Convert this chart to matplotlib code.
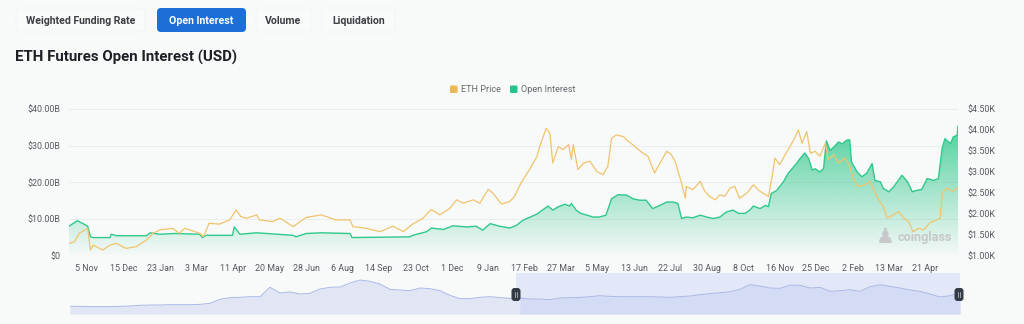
import matplotlib
matplotlib.use("Agg")
import matplotlib.pyplot as plt
import matplotlib.dates as mdates
import numpy as np
import pandas as pd
from matplotlib.patches import FancyBboxPatch
from matplotlib.colors import to_rgb

# ---------------- data ----------------
eth_dates = [
    "2022-10-17", "2022-10-23", "2022-10-28", "2022-11-03", "2022-11-06", "2022-11-09", "2022-11-12",
    "2022-11-22", "2022-11-30", "2022-12-07", "2022-12-17", "2022-12-28", "2023-01-08", "2023-01-15",
    "2023-01-22", "2023-02-05", "2023-02-12", "2023-02-18", "2023-03-06", "2023-03-10", "2023-03-16",
    "2023-03-27", "2023-04-07", "2023-04-14", "2023-04-19", "2023-04-25", "2023-05-06", "2023-05-09",
    "2023-05-23", "2023-05-31", "2023-06-14", "2023-06-28", "2023-07-14", "2023-07-30", "2023-08-14",
    "2023-08-17", "2023-08-31", "2023-09-15", "2023-09-29", "2023-10-10", "2023-10-20", "2023-10-31",
    "2023-11-09", "2023-11-18", "2023-11-29", "2023-12-06", "2023-12-13", "2023-12-24", "2023-12-31",
    "2024-01-09", "2024-01-14", "2024-01-23", "2024-02-01", "2024-02-06", "2024-02-13", "2024-02-22",
    "2024-03-01", "2024-03-04", "2024-03-11", "2024-03-15", "2024-03-18", "2024-03-24", "2024-03-29",
    "2024-04-04", "2024-04-07", "2024-04-09", "2024-04-14", "2024-04-20", "2024-04-27", "2024-05-04",
    "2024-05-11", "2024-05-16", "2024-05-20", "2024-05-25", "2024-06-02", "2024-06-05", "2024-06-10",
    "2024-06-16", "2024-06-23", "2024-06-28", "2024-07-05", "2024-07-11", "2024-07-18", "2024-07-23",
    "2024-07-27", "2024-08-03", "2024-08-07", "2024-08-08", "2024-08-15", "2024-08-23", "2024-08-28",
    "2024-09-02", "2024-09-08", "2024-09-13", "2024-09-18", "2024-09-24", "2024-09-29", "2024-10-04",
    "2024-10-12", "2024-10-19", "2024-10-24", "2024-10-29", "2024-11-04", "2024-11-08", "2024-11-11",
    "2024-11-16", "2024-11-22", "2024-11-27", "2024-12-02", "2024-12-06", "2024-12-10", "2024-12-15",
    "2024-12-19", "2024-12-24", "2024-12-29", "2025-01-04", "2025-01-07", "2025-01-13", "2025-01-18",
    "2025-01-25", "2025-01-30", "2025-02-03", "2025-02-08", "2025-02-15", "2025-02-21", "2025-02-24",
    "2025-03-02", "2025-03-07", "2025-03-11", "2025-03-18", "2025-03-23", "2025-03-29", "2025-04-03",
    "2025-04-08", "2025-04-14", "2025-04-19", "2025-04-26", "2025-05-03", "2025-05-07", "2025-05-09",
    "2025-05-14", "2025-05-20", "2025-05-26",
]
eth_price = [
    1290, 1330, 1530, 1610, 1650, 1130, 1250,
    1130, 1250, 1290, 1170, 1210, 1370, 1530,
    1610, 1650, 1530, 1650, 1530, 1450, 1770,
    1750, 1850, 2090, 1930, 1890, 1970, 1850,
    1810, 1890, 1690, 1910, 1970, 1850, 1850,
    1690, 1650, 1570, 1700, 1570, 1750, 1890,
    2100, 1970, 2130, 2330, 2250, 2330, 2250,
    2580, 2490, 2230, 2290, 2410, 2730, 3050,
    3360, 3600, 4040, 3920, 3210, 3600, 3530,
    3650, 3290, 3650, 3050, 3210, 3250, 3010,
    2930, 3130, 3800, 3880, 3840, 3760, 3680,
    3560, 3440, 3370, 2970, 3210, 3490, 3410,
    3250, 2730, 2370, 2650, 2570, 2770, 2530,
    2410, 2330, 2450, 2410, 2610, 2650, 2370,
    2490, 2690, 2570, 2490, 2410, 2890, 3330,
    3170, 3410, 3600, 3800, 4000, 3680, 3960,
    3440, 3490, 3370, 3680, 3290, 3410, 3210,
    3330, 3130, 2810, 2650, 2690, 2770, 2610,
    2330, 2170, 1890, 1970, 2050, 1890, 1810,
    1570, 1650, 1610, 1780, 1850, 1890, 2490,
    2610, 2530, 2630,
]

oi_dates = [
    "2022-10-17", "2022-10-26", "2022-11-01", "2022-11-06", "2022-11-09", "2022-11-12", "2022-11-30",
    "2022-12-01", "2022-12-07", "2023-01-08", "2023-01-12", "2023-01-22", "2023-02-07", "2023-03-06",
    "2023-03-09", "2023-03-13", "2023-04-10", "2023-04-12", "2023-04-18", "2023-05-06", "2023-06-14",
    "2023-06-17", "2023-06-28", "2023-07-14", "2023-08-14", "2023-08-16", "2023-10-17", "2023-10-20",
    "2023-11-04", "2023-11-09", "2023-11-22", "2023-12-02", "2023-12-17", "2023-12-27", "2024-01-03",
    "2024-01-11", "2024-01-21", "2024-02-01", "2024-02-08", "2024-02-15", "2024-02-22", "2024-03-01",
    "2024-03-07", "2024-03-13", "2024-03-18", "2024-03-24", "2024-03-31", "2024-04-05", "2024-04-07",
    "2024-04-12", "2024-04-17", "2024-04-24", "2024-04-30", "2024-05-07", "2024-05-14", "2024-05-20",
    "2024-05-27", "2024-06-05", "2024-06-12", "2024-06-19", "2024-06-26", "2024-07-03", "2024-07-11",
    "2024-07-18", "2024-07-25", "2024-07-30", "2024-08-03", "2024-08-08", "2024-08-15", "2024-08-23",
    "2024-08-30", "2024-09-06", "2024-09-13", "2024-09-20", "2024-09-27", "2024-10-03", "2024-10-10",
    "2024-10-15", "2024-10-19", "2024-10-26", "2024-11-01", "2024-11-04", "2024-11-07", "2024-11-13",
    "2024-11-20", "2024-11-25", "2024-12-01", "2024-12-04", "2024-12-08", "2024-12-13", "2024-12-17",
    "2024-12-21", "2024-12-24", "2024-12-29", "2025-01-02", "2025-01-05", "2025-01-09", "2025-01-13",
    "2025-01-18", "2025-01-22", "2025-01-27", "2025-01-30", "2025-02-01", "2025-02-07", "2025-02-12",
    "2025-02-17", "2025-02-23", "2025-02-26", "2025-03-04", "2025-03-07", "2025-03-13", "2025-03-18",
    "2025-03-23", "2025-03-27", "2025-04-02", "2025-04-07", "2025-04-12", "2025-04-17", "2025-04-23",
    "2025-04-30", "2025-05-05", "2025-05-09", "2025-05-12", "2025-05-18", "2025-05-21", "2025-05-25",
    "2025-05-26",
]
oi_billions = [
    8.0, 9.5, 8.7, 8.0, 5.1, 4.9, 4.9,
    5.8, 5.4, 5.4, 6.2, 5.8, 6.0, 5.8,
    4.9, 5.5, 5.5, 7.8, 5.8, 6.2, 5.5,
    5.1, 6.0, 6.2, 6.0, 4.9, 5.1, 5.5,
    6.5, 7.5, 7.1, 8.1, 7.8, 8.0, 6.9,
    8.7, 8.0, 7.5, 8.2, 9.6, 10.4, 11.3,
    12.4, 13.5, 12.4, 13.3, 14.0, 13.5, 14.2,
    12.4, 11.5, 11.0, 10.5, 10.5, 11.0, 15.5,
    16.6, 16.5, 15.5, 15.1, 15.1, 12.8, 13.7,
    14.6, 14.6, 14.2, 10.1, 10.5, 10.3, 11.0,
    10.5, 10.1, 10.5, 11.9, 12.4, 11.5, 11.5,
    12.4, 13.5, 12.8, 13.7, 13.3, 16.9, 17.8,
    20.1, 22.4, 24.2, 25.1, 26.5, 28.0, 26.5,
    23.3, 23.7, 22.8, 23.7, 31.3, 28.7, 29.6,
    31.0, 30.5, 31.5, 31.6, 25.5, 22.8, 21.5,
    22.4, 25.1, 20.5, 20.1, 18.3, 17.4, 18.7,
    20.5, 21.9, 20.1, 17.4, 17.8, 18.0, 21.0,
    20.5, 21.0, 29.2, 31.9, 30.5, 32.4, 32.8,
    35.3,
]

# full-history overview strip (relative level), evenly spaced over the period
nav_start, nav_end = "2020-03-06", "2025-05-24"
nav_level = [
    23, 23, 22, 22, 22, 23, 24, 26, 27, 27, 28, 28, 28, 29, 32, 44, 49, 50, 52, 52,
    80, 63, 66, 60, 62, 75, 80, 81, 93, 102, 98, 90, 74, 72, 70, 78, 76, 70, 56, 46,
    46, 50, 52, 49, 47, 48, 45, 45, 43, 48, 49, 50, 52, 55, 53, 52, 52, 52, 52, 51,
    50, 52, 54, 58, 61, 64, 67, 74, 88, 84, 78, 77, 87, 86, 78, 80, 68, 70, 73, 68,
    82, 88, 83, 78, 72, 68, 60, 51, 55, 63,
]

view_start, view_end = "2022-10-17", "2025-05-26"
tick_dates = [
    "2022-11-05", "2022-12-15", "2023-01-23", "2023-03-03", "2023-04-11", "2023-05-20",
    "2023-06-28", "2023-08-06", "2023-09-14", "2023-10-23", "2023-12-01", "2024-01-09",
    "2024-02-17", "2024-03-27", "2024-05-05", "2024-06-13", "2024-07-22", "2024-08-30",
    "2024-10-08", "2024-11-16", "2024-12-25", "2025-02-02", "2025-03-13", "2025-04-21",
]
oi_ticks = [0, 10, 20, 30, 40]
price_ticks = [1000, 1500, 2000, 2500, 3000, 3500, 4000, 4500]
tabs = ["Weighted Funding Rate", "Open Interest", "Volume", "Liquidation"]
active_tab = "Open Interest"
title = "ETH Futures Open Interest (USD)"

# ---------------- style ----------------
W, H = 1024, 324
BG = "#f8f9f9"
GREEN = "#2fc98c"
GOLD = "#f0c46c"
TXT = "#555a60"
plt.rcParams["font.family"] = ["Roboto", "DejaVu Sans"]

fig = plt.figure(figsize=(W / 100, H / 100), dpi=100, facecolor=BG)


def frac_box(x0, y0, x1, y1):
    """pixel box (top-left origin) -> figure fraction [l, b, w, h]"""
    return [x0 / W, 1 - y1 / H, (x1 - x0) / W, (y1 - y0) / H]


# background canvas in pixel units for tabs / title / legend
back = fig.add_axes([0, 0, 1, 1], zorder=0)
back.set_xlim(0, W)
back.set_ylim(H, 0)
back.axis("off")

tab_boxes = [(16, 145), (157, 246), (256, 311), (322, 395)]
for name, (x0, x1) in zip(tabs, tab_boxes):
    active = name == active_tab
    if active:
        back.add_patch(FancyBboxPatch((x0, 8), x1 - x0, 24,
                                      boxstyle="round,pad=0,rounding_size=4",
                                      facecolor="#1b6fd6", edgecolor="none"))
    else:
        back.add_patch(FancyBboxPatch((x0, 8), x1 - x0, 24,
                                      boxstyle="round,pad=0,rounding_size=4",
                                      facecolor="#f9fafa", edgecolor="#f2f3f4", lw=0.5))
    back.text((x0 + x1) / 2, 20.5, name, ha="center", va="center", fontsize=7.6,
              fontweight="bold", color="white" if active else "#3a3f45")

back.text(15, 57, title, ha="left", va="center", fontsize=10.8, fontweight="bold", color="#1d2125")

# legend
back.add_patch(FancyBboxPatch((450, 85.5), 7.5, 7.5, boxstyle="round,pad=0,rounding_size=1.2",
                              facecolor="#eab956", edgecolor="none"))
back.text(461, 89.5, "ETH Price", ha="left", va="center", fontsize=6.6, color="#666b70")
back.add_patch(FancyBboxPatch((510, 85.5), 7.5, 7.5, boxstyle="round,pad=0,rounding_size=1.2",
                              facecolor="#25c48a", edgecolor="none"))
back.text(521, 89.5, "Open Interest", ha="left", va="center", fontsize=6.6, color="#666b70")

# ---------------- main chart ----------------
ax = fig.add_axes(frac_box(69, 109, 958, 255.5), zorder=2)
ax.set_facecolor("none")
x_oi = pd.to_datetime(oi_dates)
x_eth = pd.to_datetime(eth_dates)
xmin, xmax = pd.Timestamp(view_start), pd.Timestamp(view_end)

ax.set_xlim(xmin, xmax)
ax.set_ylim(0, 40)
for v in oi_ticks[1:]:
    ax.axhline(v, color="#e9eaeb", lw=0.6, zorder=0)

# gradient-filled open interest area
poly = ax.fill_between(x_oi, oi_billions, 0, facecolor="none", edgecolor="none")
top = max(oi_billions)
grad = np.zeros((256, 2, 4))
grad[..., :3] = to_rgb("#34c98e")
grad[..., 3] = np.linspace(0.85, 0.02, 256)[:, None]
img = ax.imshow(grad, aspect="auto", origin="upper",
                extent=[mdates.date2num(xmin), mdates.date2num(xmax), 0, top], zorder=1)
img.set_clip_path(poly.get_paths()[0], transform=ax.transData)
ax.plot(x_oi, oi_billions, color=GREEN, lw=1.0, zorder=3)
ax.set_xlim(xmin, xmax)
ax.set_ylim(0, 40)

ax.set_yticks(oi_ticks)
ax.set_yticklabels(["$0" if v == 0 else f"${v:.2f}B" for v in oi_ticks])
ax.set_xticks(pd.to_datetime(tick_dates))
ax.set_xticklabels([f"{d.day} {d:%b}" for d in pd.to_datetime(tick_dates)])
ax.tick_params(axis="both", length=0, labelsize=6.4, colors=TXT)
ax.tick_params(axis="y", pad=6)
ax.tick_params(axis="x", pad=6)
for s in ax.spines.values():
    s.set_visible(False)

ax2 = ax.twinx()
ax2.set_zorder(3)
ax2.set_ylim(1000, 4500)
ax2.plot(x_eth, eth_price, color=GOLD, lw=0.9, zorder=4)
ax2.set_yticks(price_ticks)
ax2.set_yticklabels([f"${v / 1000:.2f}K" for v in price_ticks])
ax2.tick_params(axis="y", length=0, labelsize=6.4, colors=TXT, pad=7)
for s in ax2.spines.values():
    s.set_visible(False)
ax2.set_xlim(xmin, xmax)

# ---------------- overview strip ----------------
nav = fig.add_axes(frac_box(70, 273, 960, 314), zorder=1)
nav.set_facecolor("none")
nx = pd.date_range(nav_start, nav_end, periods=len(nav_level))
nav.set_xlim(nx[0], nx[-1])
nav.set_ylim(0, 123)
nav.axvspan(xmin, nx[-1], color="#e3e8f8", lw=0, zorder=0)
nav.fill_between(nx, nav_level, 0, color="#e2e6f4", lw=0, zorder=1)
sel = nx >= xmin
nav.fill_between(nx[sel], np.array(nav_level)[sel], 0, color="#d4dcf5", lw=0, zorder=1)
nav.plot(nx, nav_level, color="#aab9e6", lw=0.7, zorder=2)
nav.axis("off")

# front canvas in pixel units: watermark and range handles
front = fig.add_axes([0, 0, 1, 1], zorder=10)
front.set_xlim(0, W)
front.set_ylim(H, 0)
front.axis("off")
front.patch.set_alpha(0)

front.text(885.5, 237, "\u265f", ha="center", va="center", fontsize=15,
           color="#c6c8ca", family="DejaVu Sans")
front.text(898, 237, "coinglass", ha="left", va="center", fontsize=9.2,
           fontweight="bold", color="#c6c8ca")

for hx in (516, 959):
    front.add_patch(FancyBboxPatch((hx - 4.5, 288), 9, 13, boxstyle="round,pad=0,rounding_size=3",
                                   facecolor="#353b45", edgecolor="none"))
    for dx in (-1.2, 1.2):
        front.plot([hx + dx, hx + dx], [292, 297], color="#c9ccd2", lw=0.5)

fig.savefig("out.png", dpi=100, facecolor=BG)
